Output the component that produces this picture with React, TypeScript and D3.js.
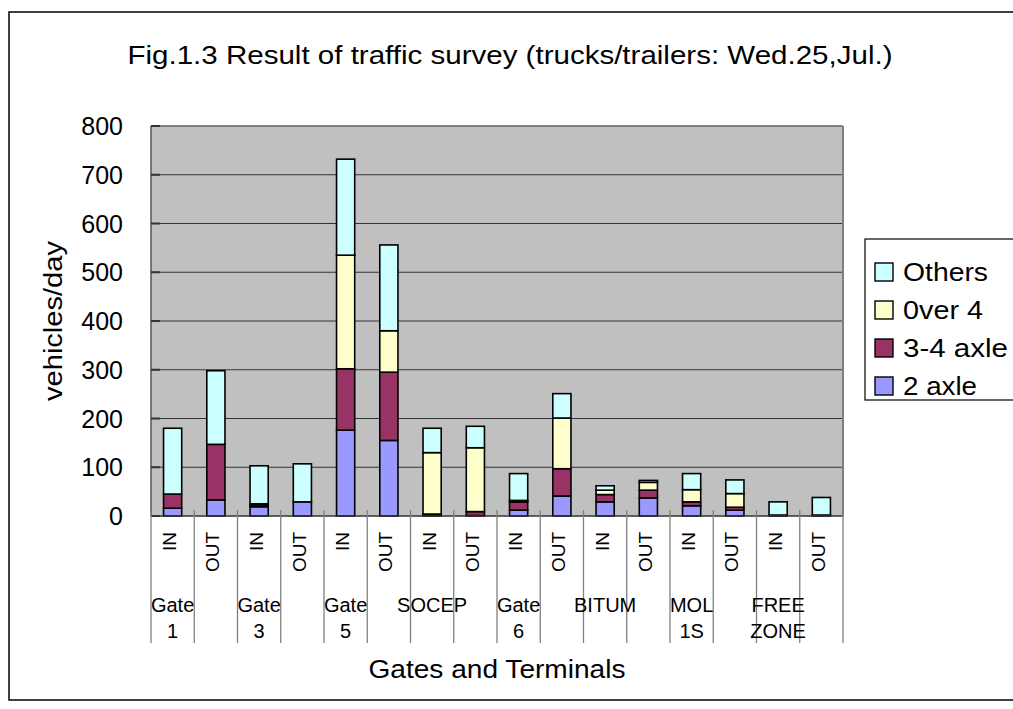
import React from 'react';
import * as d3 from 'd3';

// ---- data ----
const categories = ["IN", "OUT", "IN", "OUT", "IN", "OUT", "IN", "OUT", "IN", "OUT", "IN", "OUT", "IN", "OUT", "IN", "OUT"];
const groupLine1 = ["Gate", "", "Gate", "", "Gate", "", "SOCEP", "", "Gate", "", "BITUM", "", "MOL", "", "FREE", ""];
const groupLine2 = ["1", "", "3", "", "5", "", "", "", "6", "", "", "", "1S", "", "ZONE", ""];

const twoAxle = [16, 33, 19, 29, 176, 155, 1, 1, 12, 41, 29, 37, 21, 12, 0, 0];
const threeFourAxle = [29, 114, 4, 0, 126, 140, 3, 8, 17, 56, 15, 16, 8, 6, 2, 2];
const over4 = [0, 0, 2, 0, 233, 85, 126, 131, 3, 104, 9, 16, 25, 28, 0, 0];
const others = [135, 151, 78, 78, 197, 176, 50, 44, 55, 50, 9, 4, 33, 28, 27, 36];

const seriesNames = ["2 axle", "3-4 axle", "0ver 4", "Others"];
const seriesColors = ["#9999FF", "#993366", "#FFFFCC", "#CCFFFF"];
const yTicks = [0, 100, 200, 300, 400, 500, 600, 700, 800];

const titleText = "Fig.1.3 Result of traffic survey (trucks/trailers: Wed.25,Jul.)";
const yTitle = "vehicles/day";
const xTitle = "Gates and Terminals";

const FONT = "Arial, 'Liberation Sans', sans-serif";

export default function App() {
  const left = 151, right = 843, top = 126, bottom = 516;
  const idx = categories.map((_, i) => i);
  const x = d3.scaleBand<number>().domain(idx).range([left, right]).padding(0);
  const y = d3.scaleLinear().domain([0, 800]).range([bottom, top]);
  const barW = x.bandwidth() * 0.42;

  const rows = idx.map(i => ({ i, s0: twoAxle[i], s1: threeFourAxle[i], s2: over4[i], s3: others[i] }));
  const stack = d3.stack<any>().keys(["s0", "s1", "s2", "s3"]);
  const stacked = stack(rows);

  const boundaries = [...idx.map(i => x(i)!), right];
  const legendOrder = [3, 2, 1, 0];
  const legendW: Record<number, number> = { 3: 85, 2: 80, 1: 105, 0: 74 };

  return (
    <svg width={1013} height={709} style={{ position: 'absolute', left: 0, top: 0, background: '#fff' }} fontFamily={FONT}>
      {/* outer chart border */}
      <rect x={9} y={12} width={1010} height={688} fill="#fff" stroke="#000" strokeWidth={1.5} />

      {/* title */}
      <text x={510} y={64} textAnchor="middle" fontSize={25} textLength={765} lengthAdjust="spacingAndGlyphs">{titleText}</text>

      {/* plot area */}
      <rect x={left} y={top} width={right - left} height={bottom - top} fill="#C0C0C0" />
      {yTicks.filter(t => t > 0).map(t => (
        <line key={'g' + t} x1={left} x2={right} y1={y(t)} y2={y(t)} stroke="#333" strokeWidth={1.2} />
      ))}
      <line x1={left} x2={right} y1={top} y2={top} stroke="#808080" strokeWidth={1.5} />
      <line x1={right} x2={right} y1={top} y2={bottom} stroke="#808080" strokeWidth={2} />
      <line x1={left} x2={left} y1={top} y2={bottom} stroke="#555" strokeWidth={1.5} />
      {yTicks.map(t => (
        <line key={'yt' + t} x1={left} x2={left + 9} y1={y(t)} y2={y(t)} stroke="#333" strokeWidth={2} />
      ))}

      {/* bars */}
      {stacked.map((layer, si) => (
        <g key={'s' + si}>
          {layer.map((d, i) => (
            <rect key={i}
              x={x(i)! + (x.bandwidth() - barW) / 2}
              y={y(d[1])}
              width={barW}
              height={Math.max(0, y(d[0]) - y(d[1]))}
              fill={seriesColors[si]} stroke="#000" strokeWidth={1.6} />
          ))}
        </g>
      ))}

      {/* x axis */}
      <line x1={left} x2={right} y1={bottom} y2={bottom} stroke="#333" strokeWidth={1.5} />
      {boundaries.map((bx, k) => (
        <g key={'b' + k}>
          <line x1={bx} x2={bx} y1={bottom - 6} y2={bottom} stroke="#808080" strokeWidth={1.3} />
          <line x1={bx} x2={bx} y1={bottom} y2={643} stroke="#808080" strokeWidth={1.3} />
        </g>
      ))}
      {idx.map(i => {
        const cx = x(i)! + x.bandwidth() / 2;
        return (
          <g key={'c' + i}>
            <text transform={`translate(${cx + 3.5},532) rotate(-90)`} textAnchor="end" fontSize={19}>{categories[i]}</text>
            {groupLine1[i] && <text x={cx} y={612} textAnchor="middle" fontSize={20}>{groupLine1[i]}</text>}
            {groupLine2[i] && <text x={cx} y={638} textAnchor="middle" fontSize={20}>{groupLine2[i]}</text>}
          </g>
        );
      })}

      {/* y tick labels */}
      {yTicks.map(t => (
        <text key={'yl' + t} x={123} y={y(t)} dy="0.36em" textAnchor="end" fontSize={25}>{t}</text>
      ))}

      {/* axis titles */}
      <text transform={`translate(62,${(top + bottom) / 2}) rotate(-90)`} textAnchor="middle" fontSize={25} textLength={160} lengthAdjust="spacingAndGlyphs">{yTitle}</text>
      <text x={497} y={678} textAnchor="middle" fontSize={25} textLength={257} lengthAdjust="spacingAndGlyphs">{xTitle}</text>

      {/* legend */}
      <rect x={865} y={239} width={160} height={161} fill="#fff" stroke="#000" strokeWidth={1.2} />
      {legendOrder.map((si, r) => {
        const cy = 272 + r * 38;
        return (
          <g key={'l' + si}>
            <rect x={875} y={cy - 9} width={18} height={18} fill={seriesColors[si]} stroke="#000" strokeWidth={1.4} />
            <text x={903} y={cy} dy="0.36em" fontSize={25} textLength={legendW[si]} lengthAdjust="spacingAndGlyphs">{seriesNames[si]}</text>
          </g>
        );
      })}
    </svg>
  );
}
